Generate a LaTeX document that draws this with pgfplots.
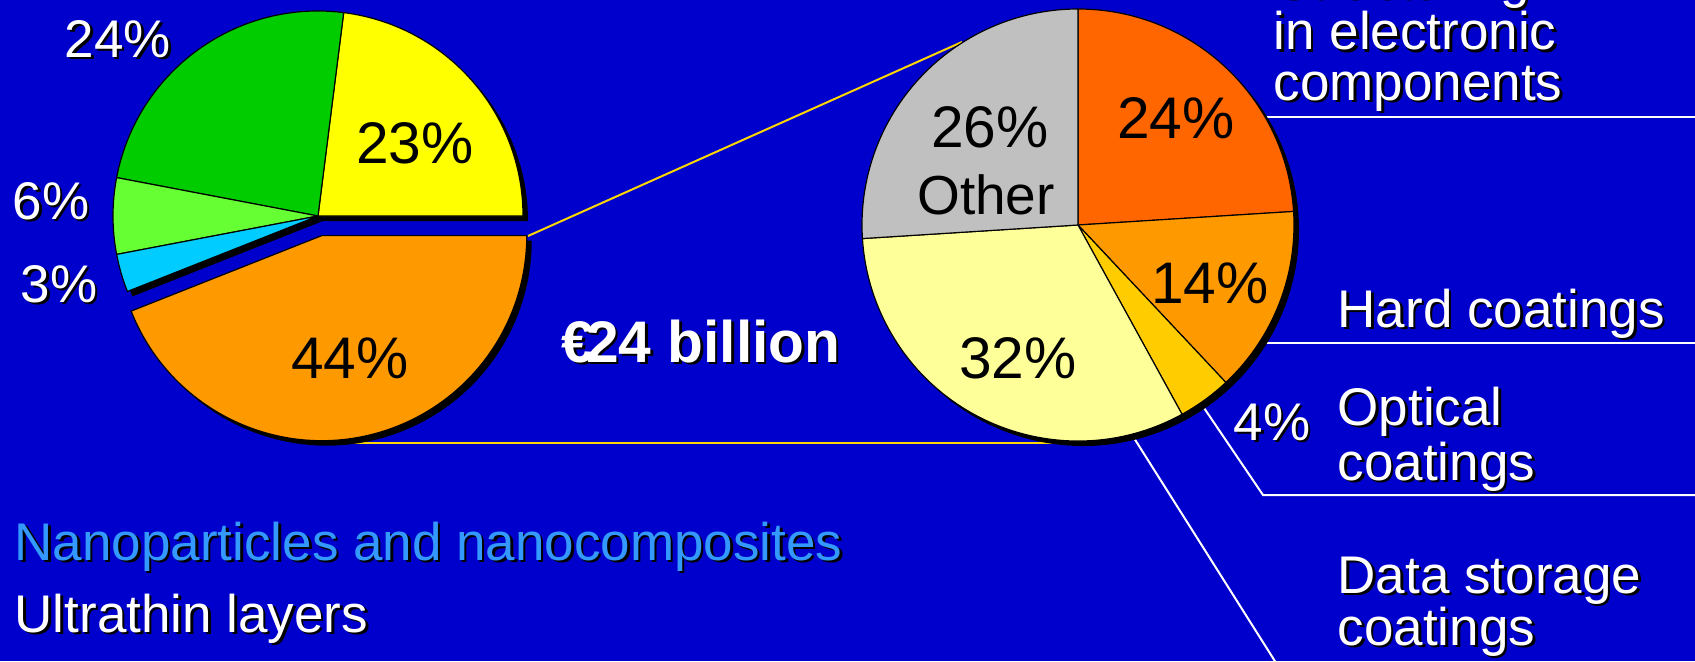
\documentclass[border=0pt]{standalone}
\usepackage{pgfplots}
\pgfplotsset{compat=1.18}
\usepackage{pgfplotstable}
\usepackage{fontspec}
\setmainfont{Liberation Sans}
\definecolor{bg}{RGB}{0,0,204}
\definecolor{pY}{RGB}{255,255,0}
\definecolor{pG}{RGB}{0,204,0}
\definecolor{pLG}{RGB}{102,255,51}
\definecolor{pC}{RGB}{0,204,255}
\definecolor{pO}{RGB}{255,153,0}
\definecolor{qR}{RGB}{255,102,0}
\definecolor{qO}{RGB}{255,153,0}
\definecolor{qG}{RGB}{255,204,0}
\definecolor{qY}{RGB}{255,255,153}
\definecolor{qGr}{RGB}{192,192,192}
\definecolor{lineY}{RGB}{255,215,0}
\definecolor{nanoB}{RGB}{51,153,255}

% left pie: shares (%), colour, explode (px)
\pgfplotstableread{
v col ex
23 pY 0
24 pG 0
6 pLG 0
3 pC 0
44 pO 20
}\leftpie
% right pie (ultrathin layers)
\pgfplotstableread{
v col ex
24 qR 0
14 qO 0
4 qG 0
32 qY 0
26 qGr 0
}\rightpie

% #1 table, #2 cx, #3 cy, #4 radius px, #5 start angle, #6 direction, #7 mode (0 shadow, 1 fill)
\newcommand\drawpie[7]{%
 \pgfplotstablegetrowsof{#1}%
 \pgfmathtruncatemacro\nr{\pgfplotsretval-1}%
 \pgfmathsetmacro\R{#4*0.3}%
 \xdef\cum{#5}%
 \foreach \i in {0,...,\nr}{%
   \pgfplotstablegetelem{\i}{v}\of#1\pgfmathsetmacro\val{\pgfplotsretval}%
   \pgfplotstablegetelem{\i}{ex}\of#1\pgfmathsetmacro\exd{\pgfplotsretval*0.3}%
   \pgfplotstablegetelem{\i}{col}\of#1\edef\col{\pgfplotsretval}%
   \pgfmathsetmacro\angA{\cum}%
   \pgfmathsetmacro\angB{\cum+#6*3.6*\val}%
   \pgfmathsetmacro\angM{(\angA+\angB)/2}%
   \ifnum#7=0
     \fill[black] ([shift={(\angM:\exd pt)},xshift=1.5pt,yshift=-1.5pt]axis cs:#2,#3) -- ++(\angA:\R pt) arc[start angle=\angA,end angle=\angB,radius=\R pt] -- cycle;
   \else
     \filldraw[fill=\col,draw=black,line width=0.35pt,line join=round] ([shift={(\angM:\exd pt)}]axis cs:#2,#3) -- ++(\angA:\R pt) arc[start angle=\angA,end angle=\angB,radius=\R pt] -- cycle;
   \fi
   \xdef\cum{\angB}%
 }%
}
% shadowed text: [anchor] x y colour text
\newcommand\stext[5][base west]{%
 \node[anchor=#1,inner sep=0pt,text=black,align=left] at ([xshift=0.75pt,yshift=-0.75pt]axis cs:#2,#3) {#5};
 \node[anchor=#1,inner sep=0pt,text=#4,align=left] at (axis cs:#2,#3) {#5};
}
\newcommand\ptext[3]{%
 \node[anchor=center,inner sep=0pt,text=black,font=\fontsize{17.6}{20}\selectfont] at (axis cs:#1,#2) {#3};
}

\begin{document}
\begin{tikzpicture}[font=\fontsize{15.9}{19}\selectfont]
\useasboundingbox (0,0) rectangle (508.5pt,198.3pt);
\clip (0,0) rectangle (508.5pt,198.3pt);
\fill[bg] (0,0) rectangle (508.5pt,198.3pt);
\begin{axis}[at={(0pt,0pt)}, anchor=south west, scale only axis,
  width=508.5pt, height=198.3pt, xmin=0, xmax=1695, ymin=0, ymax=661,
  y dir=reverse, hide axis, clip=false]
% connector lines
\draw[lineY, line width=0.6pt] (axis cs:528,236) -- (axis cs:962,42);
\draw[lineY, line width=0.6pt] (axis cs:343,443) -- (axis cs:1080,443);
\draw[white, line width=0.6pt] (axis cs:1265,117) -- (axis cs:1700,117);
\draw[white, line width=0.6pt] (axis cs:1262,343) -- (axis cs:1700,343);
\draw[white, line width=0.6pt] (axis cs:1202,405) -- (axis cs:1263,495) -- (axis cs:1700,495);
\draw[white, line width=0.6pt] (axis cs:1134,438) -- (axis cs:1290,685) -- (axis cs:1700,685);
% pies
\pgfplotsextra{%
  \drawpie{\leftpie}{318}{216}{205}{0}{1}{0}%
  \drawpie{\leftpie}{318}{216}{205}{0}{1}{1}%
  \drawpie{\rightpie}{1078}{225}{216}{90}{-1}{0}%
  \drawpie{\rightpie}{1078}{225}{216}{90}{-1}{1}%
}
% labels left pie
\stext[center]{118}{39}{white}{24\%}
\ptext{415}{143}{23\%}
\stext[center]{51}{201}{white}{6\%}
\stext[center]{59}{284}{white}{3\%}
\ptext{350}{358}{44\%}
% labels right pie
\ptext{990}{127}{26\%}
\node[anchor=center,inner sep=0pt,text=black,font=\fontsize{16.5}{19}\selectfont] at (axis cs:986,195) {Other};
\ptext{1176}{118}{24\%}
\ptext{1210}{283}{14\%}
\ptext{1018}{358}{32\%}
\stext[center]{1272}{422}{white}{4\%}
% category texts
\stext{1273}{-2}{white}{Structuring}
\stext{1273}{50}{white}{in electronic}
\stext{1273}{100}{white}{components}
\stext{1337}{327}{white}{Hard coatings}
\stext{1337}{425}{white}{Optical}
\stext{1337}{480}{white}{coatings}
\stext{1337}{593}{white}{Data storage}
\stext{1337}{645}{white}{coatings}
\stext{561}{362}{white}{\bfseries\fontsize{17.6}{20}\selectfont €\kern-0.14em 24 billion}
\stext{14}{560}{nanoB}{Nanoparticles and nanocomposites}
\stext{14}{632}{white}{Ultrathin layers}
\end{axis}
\end{tikzpicture}
\end{document}
